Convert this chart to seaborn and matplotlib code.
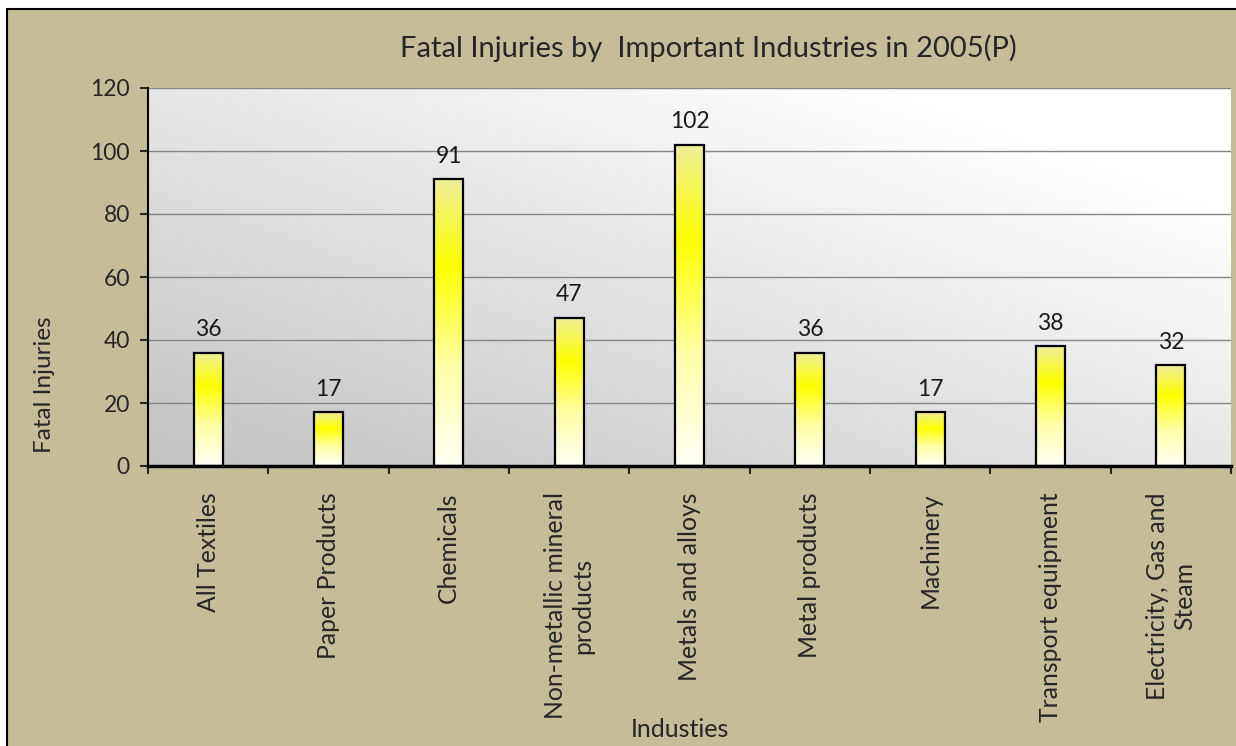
import numpy as np
import pandas as pd
import seaborn as sns
import matplotlib.pyplot as plt
from matplotlib.colors import LinearSegmentedColormap
from matplotlib.patches import Rectangle

# data
industries = ["All Textiles", "Paper Products", "Chemicals",
              "Non-metallic mineral\nproducts", "Metals and alloys",
              "Metal products", "Machinery", "Transport equipment",
              "Electricity, Gas and\nSteam"]
injuries = [36, 17, 91, 47, 102, 36, 17, 38, 32]
yticks = [0, 20, 40, 60, 80, 100, 120]

df = pd.DataFrame({"industry": industries, "injuries": injuries})

sns.set_style("white")
plt.rcParams['font.family'] = ['Lato', 'DejaVu Sans']

W, H = 1236, 746
fig = plt.figure(figsize=(W / 100, H / 100), dpi=100, facecolor="white")

# tan chart area with black border (behind the axes)
fig.patches.append(Rectangle((7 / W, -0.05), 1.1, (H - 9) / H + 0.05,
                             transform=fig.transFigure, facecolor="#C4BD97",
                             edgecolor="black", linewidth=1.5, zorder=-1))

left, right, top, bottom = 148, 1231, 88, 466
ax = fig.add_axes([left / W, 1 - bottom / H, (right - left) / W, (bottom - top) / H])

sns.barplot(data=df, x="industry", y="injuries", width=0.24, ax=ax,
            color="yellow", errorbar=None)

ax.set_xlim(-0.5, len(industries) - 0.5)
ax.set_ylim(0, 120)

# plot area gradient: white at top right, grey toward bottom left
u = np.linspace(0, 1, 300)
w = np.linspace(0, 1, 150)
U, Wg = np.meshgrid(u, w)
t = (U + Wg) / 2
bg = 0.76 + 0.24 * np.clip(t / 0.85, 0, 1)
ax.imshow(bg, cmap="gray", vmin=0, vmax=1, origin="lower", aspect="auto",
          extent=[0, 1, 0, 1], transform=ax.transAxes, zorder=0.1)

# bar gradient
bar_cmap = LinearSegmentedColormap.from_list(
    "bar", [(0, "#FFFFF6"), (0.35, "#FFFFA8"), (0.7, "#FFFF00"), (1, "#EEEE99")])
grad = np.linspace(0, 1, 256).reshape(-1, 1)
for p in ax.patches:
    x0, y0 = p.get_x(), p.get_y()
    im = ax.imshow(grad, cmap=bar_cmap, origin="lower", aspect="auto",
                   extent=[x0, x0 + p.get_width(), y0, y0 + p.get_height()],
                   zorder=2)
    im.set_clip_path(p)
    p.set_facecolor("none")
    p.set_edgecolor("black")
    p.set_linewidth(1.6)
    p.set_zorder(3)

ax.set_xlim(-0.5, len(industries) - 0.5)
ax.set_ylim(0, 120)

ax.bar_label(ax.containers[0], padding=9, fontsize=16.5, color="#1a1a1a")

ax.set_yticks(yticks)
ax.yaxis.grid(True, color="#868686", linewidth=1)
ax.set_axisbelow(True)
for s in ["top", "right"]:
    ax.spines[s].set_visible(False)
ax.spines["left"].set_linewidth(1.5)
ax.spines["bottom"].set_linewidth(2.5)
ax.spines["left"].set_color("black")
ax.spines["bottom"].set_color("black")

ax.tick_params(axis="y", length=6, width=1.5, direction="out", labelsize=16.5,
               pad=7, left=True)
ax.set_xticks(np.arange(-0.5, len(industries), 1.0), minor=True)
ax.tick_params(axis="x", which="minor", length=6, width=1.5, direction="out",
               bottom=True)
ax.tick_params(axis="x", which="major", length=0, pad=19, labelsize=17.8)
for lbl in ax.get_xticklabels():
    lbl.set_rotation(90)
    lbl.set_multialignment("center")

ax.set_xlabel("Industies", fontsize=18)
ax.xaxis.set_label_coords(0.491, -0.667)
ax.set_ylabel("Fatal Injuries", fontsize=17.5)
ax.yaxis.set_label_coords(-0.086, 0.214)

ax.set_title("Fatal Injuries by  Important Industries in 2005(P)", fontsize=21,
             x=0.517, y=(bottom - 48) / (bottom - top), va="center", pad=0)

fig.savefig("out.png", dpi=100, facecolor="white")
